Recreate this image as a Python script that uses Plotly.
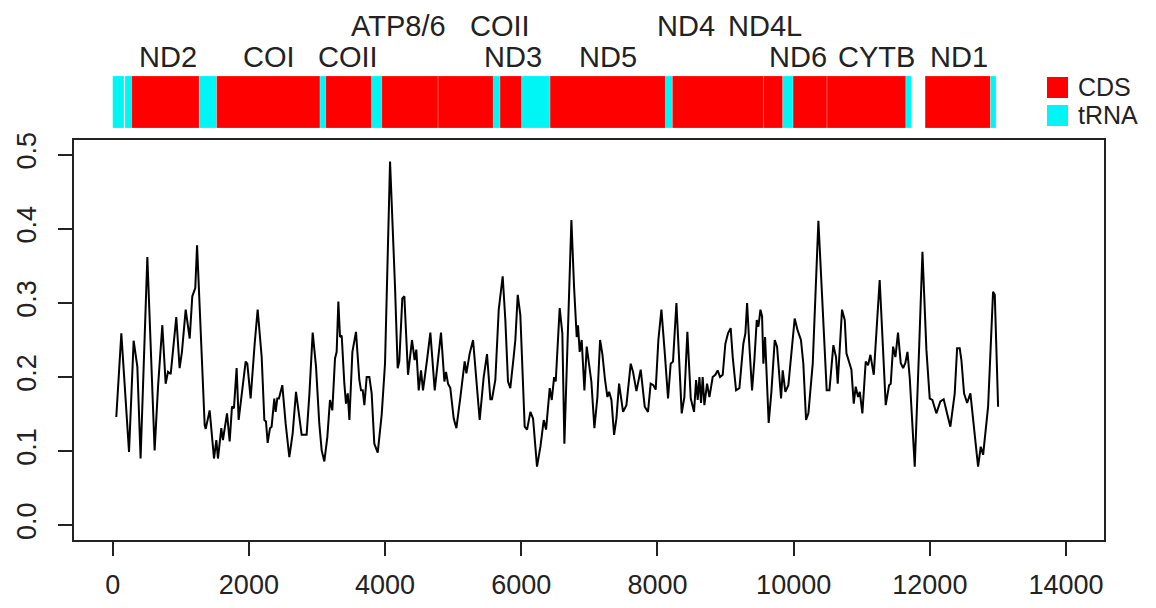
import plotly.graph_objects as go

# ---- series: sliding-window values along the mitogenome ----
pos = [53, 127, 240, 308, 362, 410, 509, 616, 666, 690, 729, 778, 812, 852, 890, 934, 983, 1017,
       1072, 1131, 1169, 1213, 1239, 1351, 1366, 1424, 1488, 1522, 1546, 1595, 1619, 1679, 1718,
       1752, 1781, 1820, 1850, 1914, 1953, 1977, 2026, 2085, 2129, 2188, 2227, 2251, 2276, 2310,
       2334, 2373, 2393, 2417, 2441, 2491, 2540, 2594, 2643, 2692, 2741, 2775, 2824, 2848, 2888,
       2937, 2986, 3034, 3069, 3108, 3152, 3191, 3225, 3265, 3289, 3314, 3338, 3363, 3402, 3426,
       3452, 3476, 3520, 3573, 3622, 3647, 3672, 3696, 3730, 3769, 3803, 3842, 3892, 3950, 3999,
       4073, 4146, 4185, 4209, 4253, 4283, 4337, 4395, 4434, 4459, 4494, 4528, 4557, 4616, 4665,
       4729, 4777, 4821, 4871, 4895, 4924, 4958, 5008, 5047, 5106, 5169, 5194, 5243, 5292, 5336,
       5389, 5448, 5497, 5546, 5570, 5619, 5669, 5727, 5766, 5805, 5839, 5889, 5913, 5948, 5986,
       6050, 6085, 6134, 6173, 6231, 6281, 6330, 6364, 6418, 6448, 6482, 6506, 6564, 6603, 6633,
       6676, 6736, 6775, 6814, 6833, 6858, 6887, 6927, 6961, 7029, 7074, 7118, 7157, 7191, 7230,
       7265, 7290, 7324, 7363, 7397, 7436, 7495, 7544, 7607, 7641, 7691, 7754, 7813, 7861, 7900,
       7940, 7974, 8013, 8058, 8111, 8155, 8194, 8228, 8278, 8356, 8395, 8439, 8489, 8537, 8567,
       8591, 8616, 8640, 8664, 8689, 8728, 8763, 8811, 8850, 8884, 8919, 8958, 8997, 9036, 9075,
       9105, 9154, 9203, 9261, 9291, 9316, 9350, 9389, 9423, 9458, 9482, 9512, 9536, 9555, 9580,
       9633, 9673, 9722, 9756, 9815, 9839, 9878, 9922, 9971, 10015, 10058, 10107, 10142, 10182,
       10216, 10280, 10363, 10417, 10485, 10525, 10583, 10622, 10647, 10710, 10750, 10775, 10814,
       10848, 10882, 10911, 10946, 10971, 11009, 11058, 11092, 11127, 11176, 11263, 11352, 11401,
       11425, 11460, 11494, 11532, 11572, 11607, 11640, 11671, 11705, 11778, 11843, 11891, 11949,
       11998, 12037, 12095, 12154, 12203, 12252, 12301, 12365, 12400, 12438, 12463, 12502, 12547,
       12595, 12634, 12708, 12747, 12782, 12855, 12928, 12953, 13002]
value = [0.146, 0.259, 0.099, 0.249, 0.214, 0.090, 0.362, 0.101, 0.187, 0.214, 0.270, 0.191, 0.207,
         0.204, 0.241, 0.281, 0.212, 0.234, 0.291, 0.252, 0.309, 0.320, 0.378, 0.135, 0.130, 0.155,
         0.090, 0.115, 0.090, 0.131, 0.115, 0.151, 0.113, 0.160, 0.158, 0.212, 0.142, 0.196, 0.221,
         0.218, 0.171, 0.245, 0.291, 0.227, 0.142, 0.140, 0.111, 0.131, 0.133, 0.171, 0.153, 0.171,
         0.171, 0.189, 0.137, 0.092, 0.124, 0.180, 0.146, 0.122, 0.122, 0.122, 0.176, 0.260, 0.214,
         0.137, 0.101, 0.086, 0.119, 0.169, 0.155, 0.225, 0.234, 0.302, 0.254, 0.256, 0.191, 0.164,
         0.178, 0.142, 0.234, 0.261, 0.196, 0.182, 0.182, 0.162, 0.200, 0.200, 0.178, 0.110, 0.098,
         0.149, 0.218, 0.491, 0.322, 0.212, 0.221, 0.306, 0.309, 0.203, 0.250, 0.223, 0.237, 0.182,
         0.209, 0.182, 0.223, 0.260, 0.182, 0.225, 0.260, 0.194, 0.207, 0.191, 0.185, 0.144, 0.131,
         0.173, 0.221, 0.205, 0.232, 0.250, 0.205, 0.142, 0.200, 0.231, 0.170, 0.170, 0.196, 0.291,
         0.336, 0.277, 0.194, 0.185, 0.228, 0.250, 0.311, 0.284, 0.133, 0.129, 0.153, 0.144, 0.079,
         0.106, 0.142, 0.129, 0.185, 0.169, 0.200, 0.194, 0.293, 0.259, 0.110, 0.245, 0.412, 0.322,
         0.254, 0.270, 0.234, 0.250, 0.182, 0.241, 0.194, 0.131, 0.173, 0.250, 0.231, 0.196, 0.173,
         0.180, 0.169, 0.122, 0.144, 0.191, 0.153, 0.162, 0.218, 0.207, 0.181, 0.210, 0.160, 0.153,
         0.191, 0.189, 0.183, 0.250, 0.291, 0.228, 0.171, 0.218, 0.221, 0.300, 0.151, 0.173, 0.261,
         0.171, 0.153, 0.196, 0.169, 0.200, 0.165, 0.200, 0.162, 0.191, 0.173, 0.200, 0.203, 0.209,
         0.200, 0.203, 0.245, 0.259, 0.266, 0.227, 0.182, 0.185, 0.245, 0.259, 0.300, 0.241, 0.182,
         0.223, 0.277, 0.268, 0.291, 0.282, 0.218, 0.254, 0.138, 0.180, 0.250, 0.241, 0.171, 0.209,
         0.180, 0.189, 0.241, 0.279, 0.263, 0.250, 0.218, 0.142, 0.151, 0.218, 0.411, 0.304, 0.182,
         0.182, 0.243, 0.227, 0.191, 0.291, 0.277, 0.232, 0.219, 0.210, 0.164, 0.187, 0.173, 0.180,
         0.151, 0.221, 0.216, 0.230, 0.203, 0.331, 0.162, 0.189, 0.191, 0.241, 0.227, 0.260, 0.219,
         0.212, 0.219, 0.234, 0.198, 0.079, 0.241, 0.369, 0.237, 0.171, 0.169, 0.151, 0.167, 0.170,
         0.151, 0.133, 0.178, 0.239, 0.239, 0.223, 0.178, 0.165, 0.178, 0.146, 0.079, 0.106, 0.095,
         0.160, 0.315, 0.311, 0.160]

# ---- gene map ----
feat_type = ["tRNA", "tRNA", "CDS", "tRNA", "CDS", "tRNA", "CDS", "tRNA", "CDS", "CDS", "tRNA",
             "CDS", "tRNA", "CDS", "tRNA", "CDS", "CDS", "tRNA", "CDS", "CDS", "tRNA", "CDS", "tRNA"]
feat_start = [0, 181, 279, 1272, 1527, 3045, 3128, 3804, 3951, 4778, 5590, 5688, 6007, 6423, 8117,
              8219, 9558, 9840, 9991, 10490, 11648, 11930, 12890]
feat_end = [166, 279, 1272, 1527, 3045, 3128, 3804, 3951, 4778, 5590, 5688, 6007, 6423, 8117, 8219,
            9558, 9840, 9991, 10490, 11648, 11731, 12890, 12972]
type_colors = {"CDS": "#FF0000", "tRNA": "#00F5F5"}

label_text = ["ND2", "COI", "COII", "ATP8/6", "COII", "ND3", "ND5", "ND4", "ND4L", "ND6", "CYTB", "ND1"]
label_pos = [812, 2296, 3455, 4204, 5688, 5879, 7276, 8420, 9580, 10065, 11210, 12429]
label_row = [0, 0, 0, 1, 1, 0, 0, 1, 1, 0, 0, 0]

x_ticks = [0, 2000, 4000, 6000, 8000, 10000, 12000, 14000]
y_ticks = [0.0, 0.1, 0.2, 0.3, 0.4, 0.5]

# the page adds an 8px body margin; lay out in page pixels, then offset
OFF = 8
PAGE_W, PAGE_H = 1156, 608
BOX_L, BOX_R, BOX_T, BOX_B = 74, 1104, 140, 540   # plot box in page pixels
W, H = PAGE_W - OFF, PAGE_H - OFF
ML, MT = BOX_L - OFF, BOX_T - OFF
MR, MB = W - (BOX_R - OFF), H - (BOX_B - OFF)
plot_h = BOX_B - BOX_T
plot_w = BOX_R - BOX_L


def py(pix):
    return (BOX_B - pix) / plot_h


def px(pix):
    return (pix - BOX_L) / plot_w


fig = go.Figure()
fig.add_trace(go.Scatter(x=pos, y=value, mode="lines",
                         line=dict(color="black", width=2), showlegend=False,
                         hoverinfo="x+y"))

shapes = []
bar_y0, bar_y1 = py(128), py(76)
for t, s, e in zip(feat_type, feat_start, feat_end):
    shapes.append(dict(type="rect", xref="x", yref="paper", x0=s, x1=e, y0=bar_y0, y1=bar_y1,
                       fillcolor=type_colors[t], line=dict(width=0.6, color="rgba(255,255,255,0.35)"),
                       layer="above"))

# legend keys
legend_items = ["CDS", "tRNA"]
legend_top = [77, 105]
annotations = []
for name, top in zip(legend_items, legend_top):
    shapes.append(dict(type="rect", xref="paper", yref="paper", x0=px(1047), x1=px(1068),
                       y0=py(top + 21), y1=py(top), fillcolor=type_colors[name], line=dict(width=0)))
    annotations.append(dict(text=name, xref="paper", yref="paper", x=px(1076), y=py(top + 10.5),
                            xanchor="left", yanchor="middle", showarrow=False,
                            font=dict(family="Liberation Sans, Arial", size=25, color="#222")))

row_y = [py(57), py(26)]
for txt, p, r in zip(label_text, label_pos, label_row):
    annotations.append(dict(text=txt, xref="x", yref="paper", x=p, y=row_y[r],
                            xanchor="center", yanchor="middle", showarrow=False,
                            font=dict(family="Liberation Sans, Arial", size=29, color="#222")))

axis_common = dict(showgrid=False, zeroline=False, showline=True, mirror=True, automargin=False,
                   linecolor="#222", linewidth=2, ticks="outside", ticklen=14, tickwidth=1.5,
                   tickcolor="#222",
                   tickfont=dict(family="Liberation Sans, Arial", size=27, color="#222"))

fig.update_layout(
    width=W, height=H,
    margin=dict(l=ML, r=MR, t=MT, b=MB, pad=0, autoexpand=False),
    plot_bgcolor="white", paper_bgcolor="white",
    shapes=shapes, annotations=annotations,
    xaxis=dict(range=[-568, 14557], tickvals=x_ticks, ticktext=[str(v) for v in x_ticks],
               ticklabelstandoff=6, **axis_common),
    yaxis=dict(range=[-0.02, 0.52], tickvals=y_ticks, ticktext=[f"{v:.1f}" for v in y_ticks],
               tickangle=-90, ticklabelstandoff=11, **axis_common),
)

fig.write_html("out.html")
